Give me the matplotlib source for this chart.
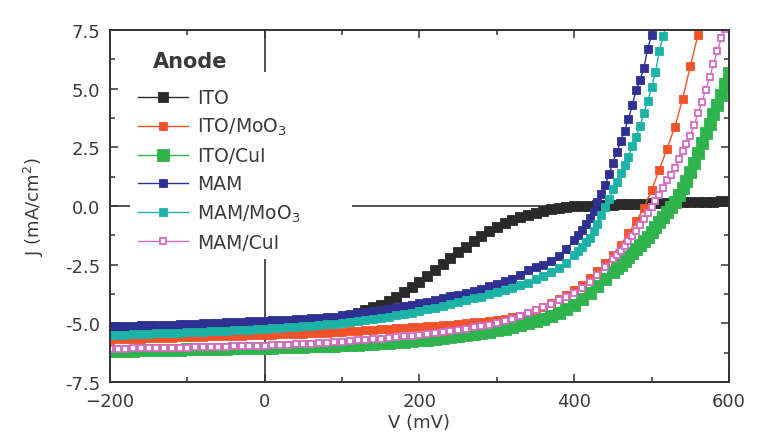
import numpy as np
import matplotlib
matplotlib.use("Agg")
import matplotlib.pyplot as plt
from matplotlib.patches import Rectangle
from matplotlib.ticker import MultipleLocator

plt.rcParams['font.family'] = ['DejaVu Sans']
plt.rcParams['mathtext.default'] = 'regular'

# ---------------- data (J in mA/cm^2 vs V in mV) ----------------
V_ITO = np.arange(-200, 601, 10)
J_ITO = [-5.45, -5.44, -5.44, -5.43, -5.43, -5.42, -5.41, -5.41, -5.40, -5.39,
         -5.38, -5.38, -5.37, -5.36, -5.35, -5.34, -5.33, -5.32, -5.31, -5.30,
         -5.29, -5.27, -5.25, -5.23, -5.20, -5.16, -5.11, -5.05, -4.98, -4.90,
         -4.80, -4.68, -4.55, -4.42, -4.30, -4.20, -4.05, -3.87, -3.67, -3.46,
         -3.25, -3.00, -2.74, -2.48, -2.23, -1.98, -1.74, -1.50, -1.27, -1.06,
         -0.88, -0.74, -0.60, -0.47, -0.37, -0.28, -0.20, -0.14, -0.09, -0.05,
         -0.02, 0.00, 0.02, 0.03, 0.05, 0.06, 0.07, 0.08, 0.09, 0.10,
         0.11, 0.12, 0.13, 0.14, 0.15, 0.16, 0.17, 0.18, 0.19, 0.20,
         0.21]

V_ITO_MoO3 = np.arange(-200, 571, 10)
J_ITO_MoO3 = [-5.69, -5.68, -5.67, -5.66, -5.65, -5.64, -5.63, -5.62, -5.61, -5.60,
              -5.59, -5.58, -5.57, -5.56, -5.55, -5.54, -5.53, -5.52, -5.51, -5.50,
              -5.49, -5.48, -5.47, -5.46, -5.45, -5.44, -5.43, -5.41, -5.39, -5.37,
              -5.35, -5.33, -5.31, -5.29, -5.27, -5.25, -5.23, -5.21, -5.19, -5.16,
              -5.14, -5.12, -5.10, -5.07, -5.05, -5.02, -4.99, -4.96, -4.93, -4.90,
              -4.86, -4.81, -4.75, -4.68, -4.57, -4.44, -4.30, -4.15, -3.98, -3.80,
              -3.60, -3.36, -3.08, -2.78, -2.44, -2.08, -1.65, -1.17, -0.65, -0.10,
              0.68, 1.55, 2.45, 3.37, 4.55, 5.95, 7.30, 8.70]

V_ITO_CuI = np.r_[np.arange(-200, 450, 10), np.arange(450, 601, 5)]
J_ITO_CuI = [-6.18, -6.17, -6.17, -6.16, -6.15, -6.15, -6.14, -6.13, -6.13, -6.12,
             -6.11, -6.10, -6.10, -6.09, -6.08, -6.08, -6.07, -6.06, -6.06, -6.05,
             -6.04, -6.03, -6.02, -6.01, -6.00, -5.99, -5.98, -5.97, -5.96, -5.95,
             -5.94, -5.92, -5.91, -5.89, -5.87, -5.85, -5.83, -5.81, -5.78, -5.75,
             -5.72, -5.69, -5.66, -5.62, -5.58, -5.54, -5.50, -5.45, -5.41, -5.36,
             -5.30, -5.24, -5.17, -5.09, -5.00, -4.90, -4.80, -4.69, -4.57, -4.40,
             -4.20, -3.95, -3.70, -3.42, -3.12,
             -2.80, -2.65, -2.50, -2.35, -2.18, -2.00, -1.83, -1.65, -1.48, -1.30,
             -1.10, -0.90, -0.70, -0.48, -0.26, -0.05, 0.18, 0.45, 0.75, 1.08,
             1.45, 1.85, 2.28, 2.70, 3.10, 3.50, 3.90, 4.32, 4.75, 5.20,
             5.65]

V_MAM = np.r_[np.arange(-200, 400, 10), np.arange(400, 511, 5)]
J_MAM = [-5.13, -5.12, -5.11, -5.10, -5.09, -5.08, -5.07, -5.06, -5.05, -5.03,
         -5.02, -5.01, -5.00, -4.99, -4.97, -4.96, -4.95, -4.93, -4.92, -4.91,
         -4.89, -4.87, -4.86, -4.84, -4.82, -4.80, -4.78, -4.76, -4.73, -4.71,
         -4.66, -4.61, -4.57, -4.52, -4.47, -4.42, -4.37, -4.32, -4.26, -4.20,
         -4.13, -4.07, -4.00, -3.93, -3.85, -3.78, -3.70, -3.61, -3.52, -3.42,
         -3.32, -3.21, -3.09, -2.96, -2.72, -2.62, -2.50, -2.33, -2.12, -1.83,
         -1.45, -1.25, -1.02, -0.77, -0.50, -0.20, 0.15, 0.52, 0.90, 1.35,
         1.85, 2.30, 2.75, 3.20, 3.70, 4.30, 4.95, 5.35, 5.90, 6.70,
         7.30, 8.00, 8.80]

V_MAM_MoO3 = np.r_[np.arange(-200, 400, 10), np.arange(400, 521, 5)]
J_MAM_MoO3 = [-5.50, -5.49, -5.48, -5.47, -5.46, -5.45, -5.43, -5.42, -5.41, -5.40,
              -5.38, -5.37, -5.36, -5.34, -5.33, -5.31, -5.30, -5.28, -5.27, -5.25,
              -5.23, -5.21, -5.19, -5.17, -5.15, -5.12, -5.10, -5.07, -5.04, -5.01,
              -4.98, -4.94, -4.90, -4.86, -4.81, -4.76, -4.71, -4.66, -4.60, -4.54,
              -4.46, -4.40, -4.33, -4.26, -4.18, -4.10, -4.02, -3.94, -3.86, -3.77,
              -3.68, -3.59, -3.49, -3.38, -3.26, -3.13, -2.99, -2.83, -2.65, -2.43,
              -2.10, -1.93, -1.75, -1.55, -1.35, -1.05, -0.75, -0.40, -0.05, 0.30,
              0.72, 1.02, 1.40, 1.75, 2.10, 2.55, 2.95, 3.40, 3.95, 4.47,
              5.07, 5.70, 6.60, 7.24, 7.90]

V_MAM_CuI = np.r_[np.arange(-200, 450, 10), np.arange(450, 601, 5)]
J_MAM_CuI = [-6.09, -6.08, -6.08, -6.07, -6.07, -6.06, -6.06, -6.05, -6.04, -6.04,
             -6.03, -6.02, -6.01, -6.01, -6.00, -5.99, -5.98, -5.97, -5.96, -5.96,
             -5.95, -5.93, -5.92, -5.91, -5.89, -5.88, -5.86, -5.84, -5.82, -5.80,
             -5.78, -5.76, -5.73, -5.71, -5.68, -5.65, -5.62, -5.59, -5.56, -5.53,
             -5.50, -5.46, -5.42, -5.38, -5.33, -5.28, -5.23, -5.17, -5.11, -5.05,
             -4.99, -4.90, -4.80, -4.68, -4.55, -4.42, -4.30, -4.17, -4.02, -3.86,
             -3.70, -3.48, -3.22, -2.93, -2.60,
             -2.26, -2.08, -1.90, -1.70, -1.50, -1.28, -1.05, -0.80, -0.55, -0.30,
             -0.05, 0.20, 0.47, 0.78, 1.10, 1.32, 1.62, 2.00, 2.35, 2.65,
             3.00, 3.45, 3.95, 4.45, 4.95, 5.50, 6.05, 6.60, 7.15, 7.55,
             8.10]

labels = ['ITO', 'ITO/MoO$_3$', 'ITO/CuI', 'MAM', 'MAM/MoO$_3$', 'MAM/CuI']
colors = ['#2a2a2a', '#f0522a', '#2fb34c', '#2e3192', '#1cb3a6', '#d56ac4']
series = [(V_ITO, J_ITO), (V_ITO_MoO3, J_ITO_MoO3), (V_ITO_CuI, J_ITO_CuI),
          (V_MAM, J_MAM), (V_MAM_MoO3, J_MAM_MoO3), (V_MAM_CuI, J_MAM_CuI)]
msizes = [7.0, 6.2, 9.0, 5.8, 5.8, 4.8]

xticks = [-200, 0, 200, 400, 600]
yticks = [-7.5, -5.0, -2.5, 0.0, 2.5, 5.0, 7.5]

# ---------------- figure ----------------
fig = plt.figure(figsize=(7.83, 4.35), dpi=100)
ax = fig.add_axes([0.1405, 0.1195, 0.7905, 0.8092])
txt = '#3a3a3a'

ax.axhline(0, color='#222222', lw=1.1, zorder=1)
ax.axvline(0, color='#222222', lw=1.1, zorder=1)

for (v, j), lab, c, ms in zip(series, labels, colors, msizes):
    hollow = lab == 'MAM/CuI'
    ax.plot(v, j, '-', marker='s', color=c, lw=1.0, ms=ms,
            mfc='white' if hollow else c, mec=c,
            mew=1.3 if hollow else 0.6, label=lab, zorder=2)

ax.set_xlim(-200, 600)
ax.set_ylim(-7.5, 7.5)
ax.set_xticks(xticks)
ax.set_yticks(yticks)
ax.set_yticklabels([f'{t:.1f}' for t in yticks])
ax.xaxis.set_minor_locator(MultipleLocator(100))
ax.yaxis.set_minor_locator(MultipleLocator(1.25))
ax.tick_params(which='both', direction='in', top=True, right=True,
               colors='#333333', labelcolor=txt, labelsize=13, width=1.1)
ax.tick_params(which='major', length=6, pad=7)
ax.tick_params(which='minor', length=3.5)
for s in ax.spines.values():
    s.set_color('#333333')
    s.set_linewidth(1.4)

ax.set_xlabel('V (mV)', fontsize=13, color=txt, labelpad=2)
ax.set_ylabel('J (mA/cm$^2$)', fontsize=13, color=txt, labelpad=14)

# white area behind the legend
ax.add_patch(Rectangle((0.032, 0.349), 0.359, 0.532, transform=ax.transAxes,
                       facecolor='white', edgecolor='none', zorder=3))
ax.text(0.0695, 0.912, 'Anode', transform=ax.transAxes, fontsize=15,
        fontweight='bold', color=txt, va='center', ha='left', zorder=5)
leg = ax.legend(loc='upper left', bbox_to_anchor=(0.045, 0.835), frameon=False,
                fontsize=13.5, handlelength=2.7, handletextpad=0.45,
                labelspacing=0.48, borderpad=0, borderaxespad=0)
leg.set_zorder(5)
for t in leg.get_texts():
    t.set_color(txt)

fig.savefig('out.png', dpi=100)
